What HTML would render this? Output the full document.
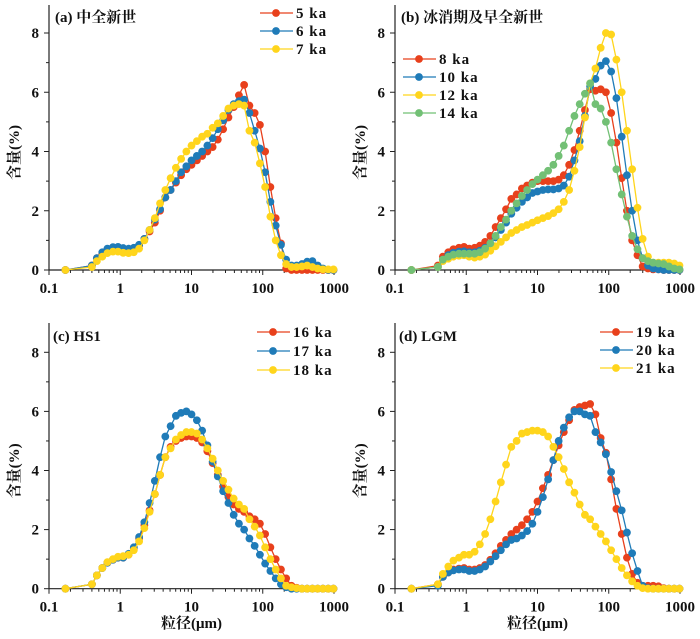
<!DOCTYPE html>
<html><head><meta charset="utf-8">
<style>
html,body{margin:0;padding:0;background:#fff;}
svg{display:block;font-family:"Liberation Serif","Noto Serif CJK SC",serif;}
</style></head>
<body>
<svg id="chart" width="700" height="639" viewBox="0 0 700 639" xmlns="http://www.w3.org/2000/svg"></svg>
<script>
const sizes = [0.17,0.40,0.47,0.56,0.66,0.79,0.93,1.10,
1.31,1.55,1.84,2.18,2.58,3.06,3.62,4.29,
5.09,6.04,7.15,8.47,10.0,11.9,14.1,16.7,
19.8,23.4,27.8,33.0,39.1,46.3,54.8,65.0,
77.0,91.2,108,128,152,180,213,253,
299,355,420,498,590,699,830,983];
const xTicks = [0.1,1,10,100,1000];
const xTickLabels = ["0.1","1","10","100","1000"];
const yTicks = [0,2,4,6,8];

const a5 = [0,0.15,0.4,0.55,0.68,0.73,0.75,0.72, 0.7,0.72,0.82,1.05,1.3,1.6,2.0,2.45, 2.7,2.95,3.2,3.4,3.55,3.7,3.85,4.0, 4.15,4.4,4.75,5.15,5.5,5.9,6.25,5.55, 5.3,4.9,4.0,2.8,1.75,0.9,0.05,0, 0,0,0,0,0,0,0,0];
const a6 = [0,0.15,0.4,0.6,0.72,0.77,0.78,0.74, 0.72,0.75,0.85,1.05,1.35,1.7,2.05,2.45, 2.7,3.0,3.3,3.5,3.7,3.85,4.0,4.2, 4.45,4.75,5.05,5.4,5.6,5.7,5.75,5.3, 4.7,4.1,3.3,2.3,1.5,0.85,0.35,0.15, 0.15,0.2,0.28,0.3,0.15,0.05,0,0];
const a7 = [0,0.1,0.3,0.45,0.57,0.62,0.62,0.58, 0.57,0.6,0.72,1.0,1.35,1.75,2.25,2.7, 3.1,3.45,3.75,4.0,4.2,4.35,4.5,4.6, 4.8,4.95,5.2,5.45,5.55,5.6,5.55,4.7, 4.3,3.6,2.8,1.8,1.0,0.5,0.2,0.1, 0.1,0.12,0.15,0.1,0.05,0.02,0.02,0.02];

const b8 = [0,0.15,0.45,0.6,0.7,0.75,0.78,0.72, 0.75,0.82,0.95,1.15,1.45,1.75,2.05,2.4, 2.55,2.75,2.85,2.95,3.0,3.0,3.0,3.0, 3.05,3.2,3.55,4.05,4.7,5.4,6.1,6.05, 6.1,6.0,5.3,4.3,3.1,2.0,1.0,0.5, 0.12,0.05,0.02,0.02,0,0,0,0];
const b10 = [0,0.1,0.35,0.5,0.58,0.62,0.63,0.6, 0.6,0.65,0.75,0.9,1.1,1.35,1.6,1.9, 2.1,2.3,2.45,2.6,2.65,2.7,2.72,2.72, 2.75,2.85,3.15,3.7,4.35,5.2,6.2,6.45, 6.9,7.05,6.7,5.8,4.5,3.2,2.0,1.0, 0.4,0.15,0.05,0.02,0,0,0,0];
const b12 = [0,0.1,0.3,0.38,0.45,0.48,0.5,0.45, 0.42,0.45,0.52,0.65,0.8,0.95,1.1,1.25, 1.35,1.45,1.52,1.6,1.68,1.75,1.82,1.92, 2.05,2.3,2.7,3.35,4.15,5.15,6.3,6.8, 7.5,8.0,7.95,7.1,6.0,4.7,3.4,2.1, 1.05,0.45,0.25,0.25,0.25,0.25,0.22,0.15];
const b14 = [0,0.1,0.35,0.45,0.52,0.55,0.55,0.55, 0.55,0.6,0.72,0.9,1.15,1.45,1.7,2.0, 2.25,2.5,2.7,2.9,3.05,3.2,3.35,3.55, 3.85,4.2,4.7,5.2,5.6,5.95,6.3,5.6, 5.45,5.0,4.3,3.4,2.55,1.8,1.15,0.7, 0.4,0.3,0.25,0.22,0.2,0.12,0.05,0.02];

const c16 = [0,0.15,0.45,0.7,0.88,0.98,1.05,1.05, 1.15,1.35,1.7,2.15,2.65,3.2,3.85,4.45, 4.8,5.0,5.1,5.15,5.15,5.1,4.95,4.65, 4.25,3.85,3.45,3.1,2.85,2.7,2.6,2.45, 2.35,2.2,1.85,1.4,1.0,0.65,0.35,0.1, 0.03,0,0,0,0,0,0,0];
const c17 = [0,0.15,0.45,0.7,0.88,0.98,1.05,1.05, 1.18,1.4,1.75,2.25,2.9,3.65,4.45,5.15, 5.5,5.85,5.95,6.0,5.9,5.7,5.35,4.85, 4.3,3.8,3.3,2.9,2.5,2.2,2.0,1.7, 1.45,1.15,0.85,0.6,0.35,0.15,0.05,0, 0,0,0,0,0,0,0,0];
const c18 = [0,0.15,0.45,0.7,0.9,1.0,1.08,1.1, 1.15,1.3,1.6,2.05,2.6,3.2,3.85,4.45, 4.75,5.05,5.2,5.3,5.3,5.25,5.05,4.75, 4.4,4.0,3.65,3.35,3.05,2.85,2.7,2.35, 2.1,1.8,1.4,1.0,0.65,0.35,0.1,0.05, 0.02,0,0,0,0,0,0,0];

const d19 = [0,0.15,0.4,0.55,0.65,0.68,0.7,0.65, 0.65,0.7,0.8,0.98,1.2,1.45,1.65,1.85, 2.0,2.15,2.35,2.6,2.95,3.4,3.85,4.35, 4.85,5.3,5.7,6.05,6.15,6.2,6.25,5.9, 5.1,4.6,3.7,2.7,1.85,1.05,0.5,0.2, 0.1,0.1,0.1,0.08,0.02,0,0,0];
const d20 = [0,0.1,0.4,0.55,0.62,0.65,0.65,0.6, 0.6,0.65,0.75,0.92,1.1,1.3,1.5,1.65, 1.7,1.8,1.95,2.2,2.6,3.1,3.7,4.35, 5.0,5.45,5.8,6.0,6.0,5.9,5.85,5.3, 4.95,4.55,3.95,3.3,2.65,1.9,1.2,0.6, 0.1,0.02,0,0,0,0,0,0];
const d21 = [0,0.15,0.5,0.75,0.95,1.05,1.15,1.15, 1.25,1.5,1.85,2.35,2.95,3.6,4.2,4.8, 5.0,5.25,5.3,5.35,5.35,5.3,5.15,4.8, 4.45,4.05,3.6,3.25,2.85,2.5,2.35,2.1, 1.85,1.6,1.3,1.0,0.7,0.45,0.25,0.1, 0.02,0,0,0,0,0,0,0];

const RED="#e8401c", BLUE="#1f7bb8", YEL="#ffd51c", GRN="#72c075";
const panels = [
 {id:"a", title:"(a) 中全新世", L:49, R:334, y0:270, y8:33, top:5, tx:55, ty:22, xlab:false,
  leg:{x:260, y:13, dy:18},
  series:[{n:"5 ka",c:RED,v:a5},{n:"6 ka",c:BLUE,v:a6},{n:"7 ka",c:YEL,v:a7}]},
 {id:"b", title:"(b) 冰消期及早全新世", L:395, R:680, y0:270, y8:33, top:5, tx:401, ty:22, xlab:false,
  leg:{x:403, y:59, dy:18},
  series:[{n:"8 ka",c:RED,v:b8},{n:"10 ka",c:BLUE,v:b10},{n:"12 ka",c:YEL,v:b12},{n:"14 ka",c:GRN,v:b14}]},
 {id:"c", title:"(c) HS1", L:49, R:334, y0:588.7, y8:352.3, top:323, tx:53, ty:341, xlab:true,
  leg:{x:257, y:332, dy:19},
  series:[{n:"16 ka",c:RED,v:c16},{n:"17 ka",c:BLUE,v:c17},{n:"18 ka",c:YEL,v:c18}]},
 {id:"d", title:"(d) LGM", L:395, R:680, y0:588.7, y8:352.3, top:323, tx:399, ty:341, xlab:true,
  leg:{x:600, y:332, dy:18},
  series:[{n:"19 ka",c:RED,v:d19},{n:"20 ka",c:BLUE,v:d20},{n:"21 ka",c:YEL,v:d21}]}
];
const NS="http://www.w3.org/2000/svg";
const svg=document.getElementById("chart");
function mk(tag,attrs,parent){const e=document.createElementNS(NS,tag);for(const k in attrs)e.setAttribute(k,attrs[k]);(parent||svg).appendChild(e);return e;}

panels.forEach(p=>{
  const g=mk("g",{});
  
  
  const xs=v=>p.L+(Math.log10(v)+1)/4*(p.R-p.L);
  const ys=v=>p.y0-v/8*(p.y0-p.y8);
  const ax=mk("path",{d:`M${p.L},${p.top}V${p.y0}H${p.R}`,stroke:"#222","stroke-width":1.2,fill:"none"},g);
  
  
  for(let t=0;t<=8;t++){
    const y=ys(t); const major=t%2===0;
    mk("line",{x1:p.L-(major?5:3),x2:p.L,y1:y,y2:y,stroke:"#222","stroke-width":1},g);
  }
  yTicks.forEach(t=>{
    const tl=mk("text",{x:p.L-10,y:ys(t)+5,"text-anchor":"end","font-size":15,"font-weight":"bold",fill:"#111"},g);
    tl.textContent=t;
    
    
  });
  for(let d=-1;d<3;d++){for(let m=2;m<10;m++){const x=xs(m*Math.pow(10,d));mk("line",{x1:x,x2:x,y1:p.y0,y2:p.y0+3,stroke:"#222","stroke-width":1},g);}}
  xTicks.forEach((t,i)=>{
    const x=xs(t);
    mk("line",{x1:x,x2:x,y1:p.y0,y2:p.y0+5,stroke:"#222","stroke-width":1},g);
    const tl=mk("text",{x:x,y:p.y0+23,"text-anchor":"middle","font-size":15,"font-weight":"bold",fill:"#111"},g);
    tl.textContent=xTickLabels[i];
    
    
  });
  const yt=mk("text",{x:0,y:0,transform:`translate(${p.L-30},${(p.y0+p.top)/2+15}) rotate(-90)`,"text-anchor":"middle","font-size":15,"font-weight":"bold",fill:"#111"},g);
  yt.textContent="含量(%)";
  
  
  if(p.xlab){
    const xt=mk("text",{x:(p.L+p.R)/2,y:628,"text-anchor":"middle","font-size":15,"font-weight":"bold",fill:"#111"},g);
    xt.textContent="粒径(μm)";
    
    
  }
  const tt=mk("text",{x:p.tx,y:p.ty,"font-size":15,"font-weight":"bold",fill:"#111"},g);
  tt.textContent=p.title;
  
  
  p.series.forEach(s=>{
    const sg=mk("g",{},g);
    
    
    const pts=s.v.map((v,i)=>xs(sizes[i]).toFixed(1)+","+ys(v).toFixed(1)).join(" ");
    const pl=mk("polyline",{points:pts,fill:"none",stroke:s.c,"stroke-width":1.3},sg);
    
    
    s.v.forEach((v,i)=>{
      const c=mk("circle",{cx:xs(sizes[i]),cy:ys(v),r:3.9,fill:s.c},sg);
      
      
    });
  });
  p.series.forEach((s,i)=>{
    const y=p.leg.y+i*p.leg.dy;
    const lg=mk("g",{},g);
    
    
    mk("line",{x1:p.leg.x,x2:p.leg.x+33,y1:y,y2:y,stroke:s.c,"stroke-width":1.3},lg);
    mk("circle",{cx:p.leg.x+16,cy:y,r:3.9,fill:s.c},lg);
    const lt=mk("text",{x:p.leg.x+36,y:y+5,"font-size":15,"font-weight":"bold",fill:"#111","letter-spacing":"1"},lg);
    lt.textContent=s.n;
  });
});
</script>
</body></html>
